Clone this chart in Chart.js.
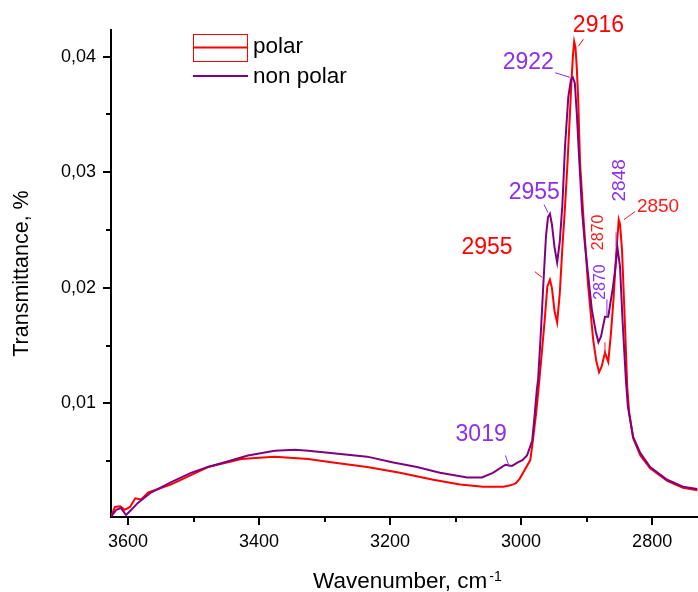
<!DOCTYPE html>
<html><head><meta charset="utf-8">
<script src="https://cdn.jsdelivr.net/npm/chart.js@4.4.1/dist/chart.umd.min.js"></script>
<style>html,body{margin:0;padding:0;background:#fff;}canvas{display:block;}</style>
</head><body>
<canvas id="c" width="698" height="592"></canvas>
<script>
// ---- data (wavenumber, cm-1 ; transmittance, %) ----
const seriesNames = ['polar', 'non polar'];
const polarWn = [3626,3620,3612,3605,3597,3589,3580,3569,3534,3504,3478,3427,3400,3376,3325,3287,3235,3185,3134,3093,3058,3027,3018,3012,3008,3002,2995,2986,2982,2977,2973,2969,2964,2960,2956,2953,2949,2945,2941,2937,2933,2929,2926,2923,2921,2919,2917,2915,2913,2910,2905,2898,2890,2885,2881,2877,2872,2867,2863,2859,2855,2851,2849,2846,2841,2838,2835,2829,2818,2803,2777,2753,2731];
const polarT = [0.0002,0.00105,0.0011,0.0008,0.00105,0.0018,0.0017,0.0023,0.0030,0.0038,0.0045,0.0052,0.0053,0.0054,0.0052,0.0049,0.0045,0.0040,0.0034,0.0030,0.0028,0.0028,0.0029,0.0030,0.0031,0.0035,0.0042,0.0051,0.0068,0.0092,0.0115,0.0140,0.0172,0.0201,0.0207,0.0200,0.0180,0.0170,0.0195,0.0235,0.0270,0.0310,0.0345,0.0380,0.0400,0.0413,0.0408,0.0390,0.0365,0.0308,0.0262,0.0204,0.0155,0.0136,0.0127,0.0132,0.0144,0.0136,0.0160,0.0190,0.0228,0.0259,0.0255,0.0233,0.0161,0.0114,0.0092,0.0070,0.0055,0.0044,0.0033,0.0027,0.0025];
const nonPolarWn = [3626,3618,3611,3603,3595,3585,3565,3534,3504,3478,3447,3417,3376,3345,3325,3287,3235,3195,3159,3124,3082,3060,3043,3024,3014,3005,2998,2991,2983,2979,2976,2974,2970,2966,2962,2959,2956,2953,2949,2945,2941,2937,2933,2928,2924,2921,2918,2915,2911,2907,2903,2899,2892,2886,2882,2878,2872,2867,2860,2856,2853,2849,2845,2840,2837,2829,2818,2803,2777,2753,2731];
const nonPolarT = [0.0002,0.0008,0.00096,0.00035,0.0008,0.0014,0.0023,0.0032,0.0040,0.0045,0.0050,0.0055,0.0059,0.0060,0.0059,0.0057,0.0054,0.0049,0.0045,0.0040,0.0036,0.0036,0.0040,0.0047,0.0046,0.0049,0.0051,0.0055,0.0068,0.0092,0.0112,0.0121,0.0160,0.0204,0.0245,0.0261,0.0264,0.0255,0.0235,0.0222,0.0240,0.0272,0.0322,0.0365,0.0380,0.0382,0.0377,0.0351,0.0308,0.0267,0.0240,0.0218,0.0181,0.0162,0.0153,0.0158,0.0175,0.0175,0.0200,0.0218,0.0235,0.0218,0.0170,0.0120,0.0097,0.0071,0.0057,0.0045,0.0034,0.0028,0.0026];
const xTickValues = [2800, 3000, 3200, 3400, 3600];
const xMinorTicks = [2900, 3100, 3300, 3500];
const yTickValues = [0.01, 0.02, 0.03, 0.04];
const yMinorTicks = [0.005, 0.015, 0.025, 0.035];
const xTitle = 'Wavenumber, cm';
const xTitleSup = '-1';
const yTitle = 'Transmittance, %';

// ---- styles / annotation placement ----
const RED = '#ff0000', PURPLE = '#800080', LBL_PURPLE = '#8c2ff0', LBL_RED = '#ff1a1a';
const FONT = "'Liberation Sans', Arial, sans-serif";
const peakLabels = [
  {text:'2916', wn:2882, v:0.0427, color:RED, size:23, rot:0, line:[2912.5,0.0409,2905,0.0415]},
  {text:'2922', wn:2989, v:0.0395, color:LBL_PURPLE, size:23, rot:0, line:[2948,0.0386,2925,0.0382]},
  {text:'2955', wn:2980, v:0.0282, color:LBL_PURPLE, size:23, rot:0, line:[2965,0.0272,2959,0.0265]},
  {text:'2955', wn:3052, v:0.0235, color:RED, size:23, rot:0, line:[2979,0.0214,2968,0.0209]},
  {text:'2870', wn:2881, v:0.0248, color:LBL_RED, size:16, rot:-90, line:[2872,0.0153,2872,0.0141]},
  {text:'2870', wn:2879, v:0.0205, color:LBL_PURPLE, size:16, rot:-90, line:[2869,0.0190,2869,0.0176]},
  {text:'2848', wn:2850, v:0.0293, color:LBL_PURPLE, size:19, rot:-90, line:[2855,0.0248,2855,0.0236]},
  {text:'2850', wn:2791, v:0.0270, color:LBL_RED, size:19, rot:0, line:[2843,0.0259,2826,0.0266]},
  {text:'3019', wn:3061, v:0.0073, color:LBL_PURPLE, size:23, rot:0, line:[3024,0.0055,3018,0.0045]}
];

const overlay = {
  id: 'overlay',
  afterDraw(chart) {
    const ctx = chart.ctx, xs = chart.scales.x, ys = chart.scales.y, area = chart.chartArea;
    ctx.save();
    // minor ticks
    ctx.strokeStyle = '#000'; ctx.lineWidth = 2;
    xMinorTicks.forEach(v => {
      const px = Math.round(xs.getPixelForValue(v));
      ctx.beginPath(); ctx.moveTo(px, area.bottom); ctx.lineTo(px, area.bottom + 5); ctx.stroke();
    });
    yMinorTicks.forEach(v => {
      const py = Math.round(ys.getPixelForValue(v));
      ctx.beginPath(); ctx.moveTo(area.left, py); ctx.lineTo(area.left - 5, py); ctx.stroke();
    });
    // peak labels
    peakLabels.forEach(p => {
      ctx.strokeStyle = p.color; ctx.lineWidth = 1;
      ctx.beginPath();
      ctx.moveTo(xs.getPixelForValue(p.line[0]), ys.getPixelForValue(p.line[1]));
      ctx.lineTo(xs.getPixelForValue(p.line[2]), ys.getPixelForValue(p.line[3]));
      ctx.stroke();
      ctx.save();
      ctx.translate(xs.getPixelForValue(p.wn), ys.getPixelForValue(p.v));
      ctx.rotate(p.rot * Math.PI / 180);
      ctx.fillStyle = p.color;
      ctx.font = p.size + 'px ' + FONT;
      ctx.textAlign = 'center'; ctx.textBaseline = 'middle';
      ctx.fillText(p.text, 0, 0);
      ctx.restore();
    });
    // legend
    ctx.strokeStyle = RED; ctx.lineWidth = 1;
    ctx.strokeRect(193.5, 34.5, 54, 27);
    ctx.lineWidth = 2;
    ctx.beginPath(); ctx.moveTo(193, 47.5); ctx.lineTo(248, 47.5); ctx.stroke();
    ctx.strokeStyle = PURPLE;
    ctx.beginPath(); ctx.moveTo(193, 76); ctx.lineTo(248, 76); ctx.stroke();
    ctx.fillStyle = '#000'; ctx.font = '22.5px ' + FONT;
    ctx.textAlign = 'left'; ctx.textBaseline = 'middle';
    ctx.fillText(seriesNames[0], 253, 47);
    ctx.fillText(seriesNames[1], 253, 77);
    // x title with superscript
    ctx.font = '22.5px ' + FONT;
    const w1 = ctx.measureText(xTitle).width;
    ctx.textBaseline = 'alphabetic';
    ctx.fillText(xTitle, 313, 588);
    ctx.font = '14px ' + FONT;
    ctx.fillText(xTitleSup, 313 + w1 + 2, 581);
    ctx.restore();
  }
};

const mk = (wn, t) => wn.map((x, i) => ({x: x, y: t[i]}));

new Chart(document.getElementById('c'), {
  type: 'line',
  data: {
    datasets: [
      {label: seriesNames[0], data: mk(polarWn, polarT), borderColor: RED, borderWidth: 2, pointRadius: 0, tension: 0, fill: false, order: 1},
      {label: seriesNames[1], data: mk(nonPolarWn, nonPolarT), borderColor: PURPLE, borderWidth: 2, pointRadius: 0, tension: 0, fill: false, order: 0}
    ]
  },
  options: {
    responsive: false, animation: false, devicePixelRatio: 1,
    layout: {padding: {top: 30, right: 0, left: 0, bottom: 0}},
    plugins: {legend: {display: false}, tooltip: {enabled: false}},
    scales: {
      x: {
        type: 'linear', reverse: true, min: 2730, max: 3626,
        afterBuildTicks: s => { s.ticks = xTickValues.map(v => ({value: v})); },
        afterFit: s => { s.height = 75; },
        ticks: {autoSkip: false, maxRotation: 0, color: '#000', padding: 6, font: {family: FONT, size: 18}, callback: v => String(v)},
        grid: {display: true, drawOnChartArea: false, drawTicks: true, tickLength: 8, color: '#000', lineWidth: 2},
        border: {display: true, color: '#000', width: 2}
      },
      y: {
        type: 'linear', min: 0.00018, max: 0.0423,
        afterBuildTicks: s => { s.ticks = yTickValues.map(v => ({value: v})); },
        afterFit: s => { s.width = 111; },
        ticks: {autoSkip: false, color: '#000', padding: 7, font: {family: FONT, size: 18}, callback: v => v.toFixed(2).replace('.', ',')},
        grid: {display: true, drawOnChartArea: false, drawTicks: true, tickLength: 8, color: '#000', lineWidth: 2},
        border: {display: true, color: '#000', width: 2},
        title: {display: true, text: yTitle, color: '#000', font: {family: FONT, size: 21.5}, padding: {top: 9, bottom: 0}}
      }
    }
  },
  plugins: [overlay]
});
</script>
</body></html>
